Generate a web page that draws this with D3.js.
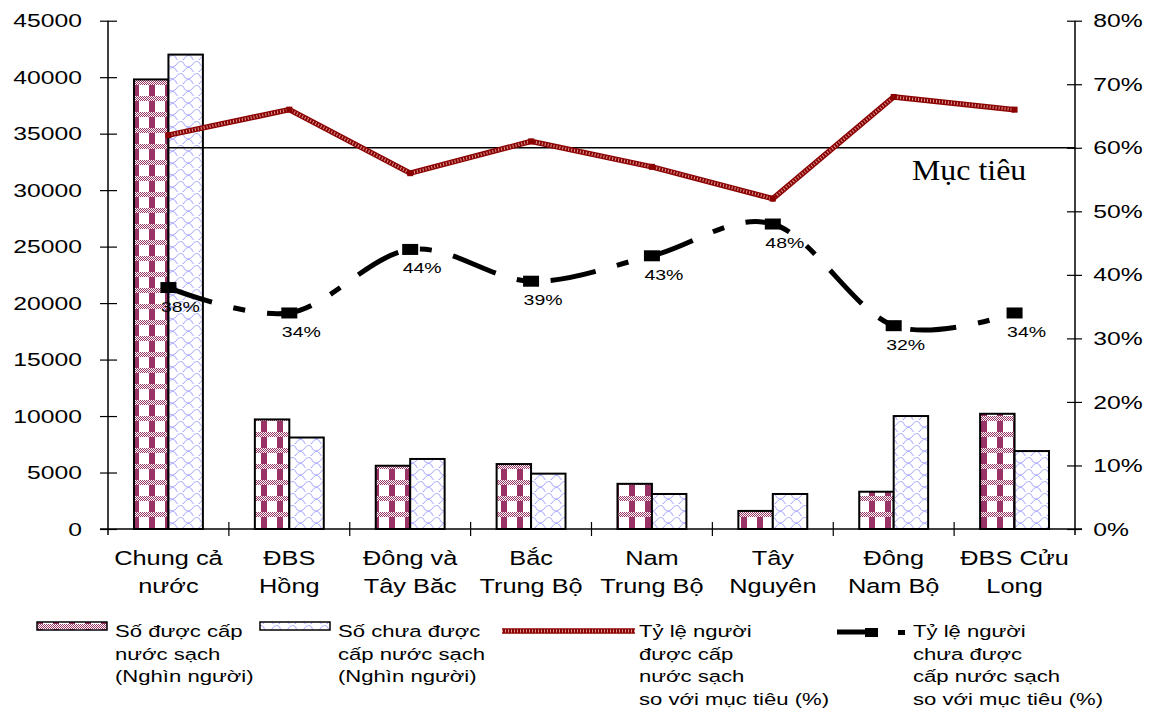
<!DOCTYPE html>
<html>
<head>
<meta charset="utf-8">
<script src="https://cdn.jsdelivr.net/npm/d3@7"></script>
<style>
  body { margin: 0; background: #fff; }
  svg { display: block; }
</style>
</head>
<body>
<svg id="chart" width="1167" height="710"></svg>
<script>
// Regions and values (people in thousands, rates in %)
const categories = ["Chung cả\nnước", "ĐBS\nHồng", "Đông và\nTây Băc", "Bắc\nTrung Bộ",
                    "Nam\nTrung Bộ", "Tây\nNguyên", "Đông\nNam Bộ", "ĐBS Cửu\nLong"];
const servedPeople   = [39800, 9700, 5600, 5750, 4000, 1600, 3300, 10200];
const unservedPeople = [42000, 8100, 6200, 4900, 3100, 3100, 10000, 6900];
const servedRate     = [62, 66, 56, 61, 57, 52, 68, 66];
const unservedRate   = [38, 34, 44, 39, 43, 48, 32, 34];
const targetRate = 60;
const targetLabel = "Mục tiêu";
const leftTicks  = [0, 5000, 10000, 15000, 20000, 25000, 30000, 35000, 40000, 45000];
const rightTicks = [0, 10, 20, 30, 40, 50, 60, 70, 80];
const legendLabels = [
  ["Số được cấp", "nước sạch", "(Nghìn người)"],
  ["Số chưa được", "cấp nước sạch", "(Nghìn người)"],
  ["Tỷ lệ người", "được cấp", "nước sạch", "so với mục tiêu (%)"],
  ["Tỷ lệ người", "chưa được", "cấp nước sạch", "so với mục tiêu (%)"]
];

const SX = 1.3;                       // horizontal text stretch
const SANS = "'Liberation Sans', Arial, sans-serif";
const SERIF = "'Liberation Serif', 'Times New Roman', serif";
const MAROON = "#993366";

const svg = d3.select("#chart");
const L = 108, R = 1075, T = 20.7, B = 529;

const x = d3.scaleBand().domain(d3.range(categories.length)).range([L, R]);
const yL = d3.scaleLinear().domain([0, 45000]).range([B, T]);
const yR = d3.scaleLinear().domain([0, 80]).range([B, T]);
const bw = x.bandwidth();
const barW = bw * 0.285;
const cx = i => x(i) + bw / 2;

// ---- fill patterns ----
const defs = svg.append("defs");
const chk = defs.append("pattern").attr("id", "chk").attr("patternUnits", "userSpaceOnUse")
  .attr("width", 2).attr("height", 2);
chk.append("rect").attr("width", 2).attr("height", 2).attr("fill", "#fff");
chk.append("rect").attr("width", 1).attr("height", 1).attr("fill", MAROON);
chk.append("rect").attr("x", 1).attr("y", 1).attr("width", 1).attr("height", 1).attr("fill", MAROON);

const plaid = defs.append("pattern").attr("id", "plaid").attr("patternUnits", "userSpaceOnUse")
  .attr("width", 16).attr("height", 16);
plaid.append("rect").attr("width", 16).attr("height", 16).attr("fill", "#fff");
plaid.append("rect").attr("x", 5).attr("width", 6).attr("height", 16).attr("fill", MAROON);
plaid.append("rect").attr("width", 16).attr("height", 5).attr("fill", "url(#chk)");

// light blue shingle/wave texture
const scales = defs.append("pattern").attr("id", "scales").attr("patternUnits", "userSpaceOnUse")
  .attr("width", 16).attr("height", 12);
scales.append("rect").attr("width", 16).attr("height", 12).attr("fill", "#fff");
scales.append("path")
  .attr("d", "M0,5 C3,0 7,1 8,4 C9,7 13,8 16,5 M-8,11 C-5,6 -1,7 0,10 C1,13 5,14 8,11 M8,11 C11,6 15,7 16,10 C17,13 21,14 24,11")
  .attr("fill", "none").attr("stroke", "#a4a4ff").attr("stroke-width", 1);

// ---- text helper (stretched horizontally) ----
function stext(parent, px, py, str, size, anchor, family, sx) {
  return parent.append("text")
    .attr("transform", `translate(${px},${py}) scale(${sx || SX},1)`)
    .attr("text-anchor", anchor || "start")
    .attr("font-family", family || SANS)
    .attr("font-size", size)
    .attr("fill", "#000")
    .text(str);
}

// ---- bars ----
const bars = svg.append("g");
bars.selectAll(".served").data(servedPeople).join("rect")
  .attr("x", (d, i) => cx(i) - barW).attr("y", d => yL(d))
  .attr("width", barW).attr("height", d => B - yL(d))
  .attr("fill", "url(#plaid)").attr("stroke", "#000").attr("stroke-width", 2);
bars.selectAll(".unserved").data(unservedPeople).join("rect")
  .attr("x", (d, i) => cx(i)).attr("y", d => yL(d))
  .attr("width", barW).attr("height", d => B - yL(d))
  .attr("fill", "url(#scales)").attr("stroke", "#000").attr("stroke-width", 2);

// ---- axes ----
const gL = svg.append("g").attr("transform", `translate(${L},0)`)
  .call(d3.axisLeft(yL).tickValues(leftTicks).tickSize(8).tickFormat(d3.format("d")));
gL.select(".domain").remove();
gL.selectAll(".tick line").attr("x1", 9).attr("stroke", "#000").attr("stroke-width", 1.2);
gL.selectAll(".tick text").attr("x", -20).attr("transform", `scale(${SX},1)`)
  .attr("font-family", SANS).attr("font-size", 19).attr("fill", "#000");

const gR = svg.append("g").attr("transform", `translate(${R},0)`)
  .call(d3.axisRight(yR).tickValues(rightTicks).tickSize(7).tickFormat(d => d + "%"));
gR.select(".domain").remove();
gR.selectAll(".tick line").attr("x1", -8).attr("stroke", "#000").attr("stroke-width", 1.2);
gR.selectAll(".tick text").attr("x", 14).attr("transform", `scale(${SX},1)`)
  .attr("font-family", SANS).attr("font-size", 19).attr("fill", "#000");

const axisLines = svg.append("g").attr("stroke", "#000").attr("stroke-width", 1.5);
axisLines.append("line").attr("x1", L).attr("x2", L).attr("y1", T).attr("y2", B + 6);
axisLines.append("line").attr("x1", R).attr("x2", R).attr("y1", T).attr("y2", B + 6);
axisLines.append("line").attr("x1", L - 8).attr("x2", R + 7).attr("y1", B).attr("y2", B);
axisLines.selectAll(".cat-tick").data(d3.range(1, categories.length)).join("line")
  .attr("x1", i => x(i)).attr("x2", i => x(i)).attr("y1", B - 7).attr("y2", B + 7)
  .attr("stroke-width", 1.2);

// category labels
const catG = svg.append("g");
categories.forEach((c, i) => {
  c.split("\n").forEach((ln, k) => stext(catG, cx(i), 565 + k * 28, ln, 19.5, "middle"));
});

// ---- target line ----
svg.append("line")
  .attr("x1", cx(0)).attr("x2", R).attr("y1", yR(targetRate)).attr("y2", yR(targetRate))
  .attr("stroke", "#000").attr("stroke-width", 1.5);
stext(svg, 912, 180, targetLabel, 29, "start", SERIF, 1.1);

// ---- served rate line (hatched dark red) ----
const linLine = d3.line().x((d, i) => cx(i)).y(d => yR(d));
svg.append("path").attr("d", linLine(servedRate))
  .attr("fill", "none").attr("stroke", "#8b0000").attr("stroke-width", 5.5);
svg.append("path").attr("d", linLine(servedRate))
  .attr("fill", "none").attr("stroke", "#dc9a9a").attr("stroke-width", 3)
  .attr("stroke-dasharray", "1,2");
svg.selectAll(".srv-mk").data(servedRate).join("rect")
  .attr("x", (d, i) => cx(i) - 3).attr("y", d => yR(d) - 3)
  .attr("width", 6).attr("height", 6).attr("fill", "#8b0000");

// ---- unserved rate line (smoothed, dashed black) ----
const smoothLine = d3.line().x((d, i) => cx(i)).y(d => yR(d)).curve(d3.curveCatmullRom.alpha(0));
svg.append("path").attr("d", smoothLine(unservedRate))
  .attr("fill", "none").attr("stroke", "#000").attr("stroke-width", 5)
  .attr("stroke-dasharray", "46,22,12,22");
svg.selectAll(".uns-mk").data(unservedRate).join("rect")
  .attr("x", (d, i) => cx(i) - 8).attr("y", d => yR(d) - 5.5)
  .attr("width", 16).attr("height", 11).attr("fill", "#000");
const lblG = svg.append("g");
unservedRate.forEach((d, i) => stext(lblG, cx(i) + 12, yR(d) + 24, d + "%", 15, "middle"));

// ---- legend ----
const lg = svg.append("g");
lg.append("rect").attr("x", 37).attr("y", 622).attr("width", 70).attr("height", 8)
  .attr("fill", "url(#plaid)").attr("stroke", "#000").attr("stroke-width", 1.5);
lg.append("rect").attr("x", 260).attr("y", 622).attr("width", 70).attr("height", 8)
  .attr("fill", "url(#scales)").attr("stroke", "#000").attr("stroke-width", 1.5);
lg.append("line").attr("x1", 502).attr("x2", 635).attr("y1", 631).attr("y2", 631)
  .attr("stroke", "#8b0000").attr("stroke-width", 5.5);
lg.append("line").attr("x1", 502).attr("x2", 635).attr("y1", 631).attr("y2", 631)
  .attr("stroke", "#dc9a9a").attr("stroke-width", 3).attr("stroke-dasharray", "1,2");
lg.append("line").attr("x1", 837).attr("x2", 872).attr("y1", 632).attr("y2", 632)
  .attr("stroke", "#000").attr("stroke-width", 5);
lg.append("rect").attr("x", 865).attr("y", 628).attr("width", 13).attr("height", 9).attr("fill", "#000");
lg.append("rect").attr("x", 898).attr("y", 630).attr("width", 7).attr("height", 5).attr("fill", "#000");

const legendX = [115, 338, 639, 913];
legendLabels.forEach((lines, j) => {
  lines.forEach((ln, k) => stext(lg, legendX[j], 637 + k * 22.7, ln, 17, "start"));
});
</script>
</body>
</html>
